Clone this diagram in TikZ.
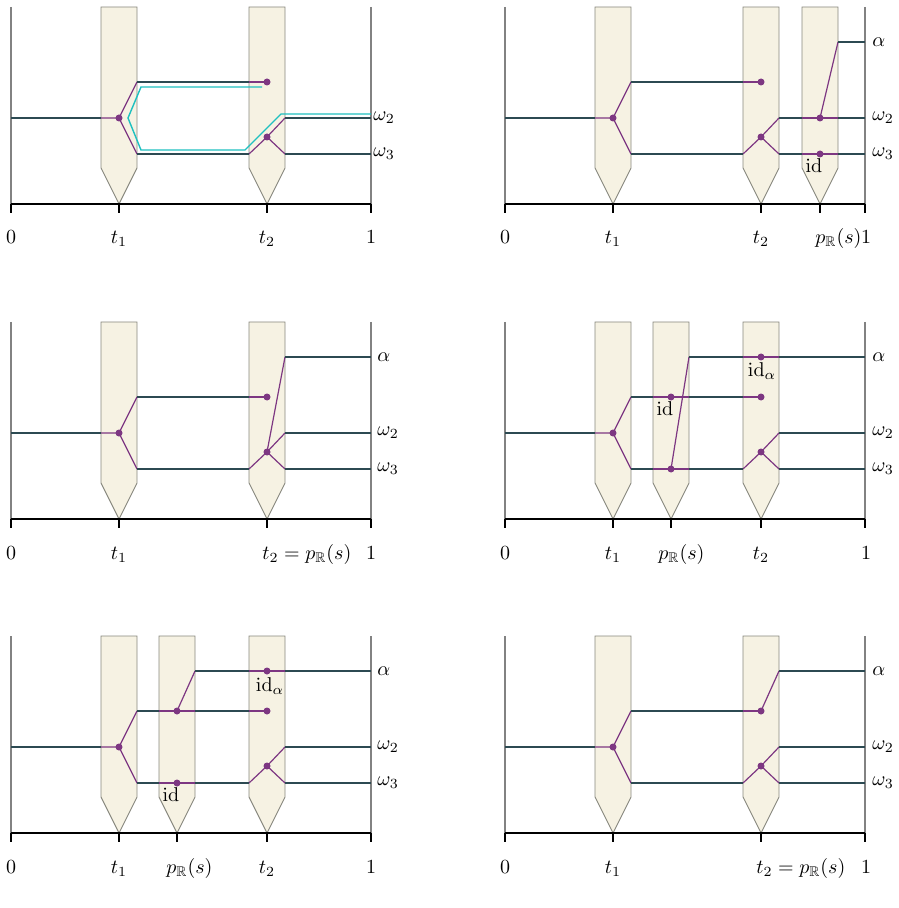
\documentclass[tikz,border=0pt]{standalone}
\usepackage{amsmath,amssymb}
\definecolor{dkc}{RGB}{44,74,82}
\definecolor{puc}{RGB}{125,55,130}
\definecolor{cyc}{RGB}{30,192,192}
\definecolor{penfill}{RGB}{246,242,227}
\definecolor{pendraw}{RGB}{135,135,125}
\definecolor{framec}{RGB}{130,130,130}
\tikzset{
  dk/.style={draw=dkc, line width=0.8pt},
  pu/.style={draw=puc, line width=0.6pt, line join=round},
  cy/.style={draw=cyc, line width=0.7pt, line join=miter},
  penbox/.style={fill=penfill, draw=pendraw, line width=0.45pt},
  framel/.style={draw=framec, line width=0.6pt},
  axisl/.style={draw=black, line width=0.8pt},
  dotn/.style={circle, fill=puc, inner sep=0pt, minimum size=3.5pt},
  rlab/.style={anchor=west, inner sep=0pt},
  tlab/.style={anchor=base, inner sep=0pt},
  tlabw/.style={anchor=base west, inner sep=0pt},
  smalllab/.style={inner sep=0pt}
}
\newcommand\penat[1]{\draw[penbox] ({#1-18},-197) -- ({#1+18},-197) -- ({#1+18},-36) -- (#1,0) -- ({#1-18},-36) -- cycle;}
\newcommand\frameaxis[1]{%
  \draw[framel] (0,-197) -- (0,0);
  \draw[framel] (360,-197) -- (360,0);
  \draw[axisl] (0,0) -- (360,0);
  \foreach \tx in {#1} {\draw[axisl] (\tx,0) -- (\tx,9);}
}
\newcommand\common{%
  \coordinate (in) at (0,-86);
  \coordinate (inp) at (90,-86);
  \coordinate (d1) at (108,-86);
  \coordinate (u1) at (126,-122);
  \coordinate (l1) at (126,-50);
  \coordinate (ua) at (238,-122);
  \coordinate (d2) at (256,-122);
  \coordinate (la) at (238,-50);
  \coordinate (d3) at (256,-67);
  \coordinate (r2) at (274,-86);
  \coordinate (r3) at (274,-50);
  \coordinate (e2) at (360,-86);
  \coordinate (e3) at (360,-50);
  \coordinate (ea) at (360,-162);
  \draw[dk] (in) -- (inp);
  \draw[pu] (inp) -- (d1) -- (u1);
  \draw[pu] (d1) -- (l1);
  \draw[pu] (ua) -- (d2);
  \draw[pu] (la) -- (d3) -- (r2);
  \draw[pu] (d3) -- (r3);
  \draw[dk] (r2) -- (e2);
  \draw[dk] (r3) -- (e3);
}
\newcommand\dotat[1]{\node[dotn] (#1n) at (#1) {};}
\begin{document}
\begin{tikzpicture}[x=0.5pt,y=-0.5pt]
\useasboundingbox (0,0) rectangle (898,908);

% ---------- Panel 1 ----------
\begin{scope}[shift={(11,204)}, name prefix=pa-]
  \penat{108}\penat{256}
  \frameaxis{0,108,256,360}
  \common
  \draw[dk] (u1) -- (ua);
  \draw[dk] (l1) -- (la);
  \coordinate (c1) at (251,-117);
  \coordinate (c2) at (130,-117);
  \coordinate (c3) at (117,-86);
  \coordinate (c4) at (130,-54);
  \coordinate (c5) at (234,-54);
  \coordinate (c6) at (270,-90);
  \coordinate (c7) at (360,-90);
  \draw[cy] (c1) -- (c2) -- (c3) -- (c4) -- (c5) -- (c6) -- (c7);
  \dotat{d1}\dotat{d2}\dotat{d3}
  \node[rlab] (w2) at (362,-86) {$\omega_2$};
  \node[rlab] (w3) at (362,-50) {$\omega_3$};
  \node[tlab] (k0) at (0,40) {$0$};
  \node[tlab] (k1) at (108,40) {$t_1$};
  \node[tlab] (k2) at (256,40) {$t_2$};
  \node[tlab] (k3) at (360,40) {$1$};
\end{scope}

% ---------- Panel 2 ----------
\begin{scope}[shift={(505,204)}, name prefix=pb-]
  \penat{108}\penat{256}\penat{315}
  \frameaxis{0,108,256,315,360}
  \common
  \draw[dk] (u1) -- (ua);
  \draw[dk] (l1) -- (la);
  \coordinate (s2a) at (297,-86);
  \coordinate (e1) at (315,-86);
  \coordinate (s2b) at (333,-86);
  \coordinate (al) at (333,-162);
  \coordinate (s3a) at (297,-50);
  \coordinate (f) at (315,-50);
  \coordinate (s3b) at (333,-50);
  \draw[dk] (r2) -- (s2a);
  \draw[pu] (s2a) -- (s2b);
  \draw[pu] (e1) -- (al);
  \draw[dk] (al) -- (ea);
  \draw[dk] (s2b) -- (e2);
  \draw[dk] (r3) -- (s3a);
  \draw[pu] (s3a) -- (s3b);
  \draw[dk] (s3b) -- (e3);
  \dotat{d1}\dotat{d2}\dotat{d3}\dotat{e1}\dotat{f}
  \node[smalllab] (idl) at (309,-38) {$\mathrm{id}$};
  \node[rlab] (wa) at (367,-162) {$\alpha$};
  \node[rlab] (w2) at (367,-86) {$\omega_2$};
  \node[rlab] (w3) at (367,-50) {$\omega_3$};
  \node[tlab] (k0) at (0,40) {$0$};
  \node[tlab] (k1) at (108,40) {$t_1$};
  \node[tlab] (k2) at (256,40) {$t_2$};
  \node[tlabw] (kp) at (310,40) {$p_{\mathbb{R}}(s)$};
  \node[tlab] (k3) at (361,40) {$1$};
\end{scope}

% ---------- Panel 3 ----------
\begin{scope}[shift={(11,519)}, name prefix=pc-]
  \penat{108}\penat{256}
  \frameaxis{0,108,256,360}
  \common
  \draw[dk] (u1) -- (ua);
  \draw[dk] (l1) -- (la);
  \coordinate (ra) at (274,-162);
  \draw[pu] (d3) -- (ra);
  \draw[dk] (ra) -- (ea);
  \dotat{d1}\dotat{d2}\dotat{d3}
  \node[rlab] (wa) at (366,-162) {$\alpha$};
  \node[rlab] (w2) at (366,-86) {$\omega_2$};
  \node[rlab] (w3) at (366,-50) {$\omega_3$};
  \node[tlab] (k0) at (0,40) {$0$};
  \node[tlab] (k1) at (108,40) {$t_1$};
  \node[tlabw] (k2) at (251,40) {$t_2 = p_{\mathbb{R}}(s)$};
  \node[tlab] (k3) at (360,40) {$1$};
\end{scope}

% ---------- Panel 4 ----------
\begin{scope}[shift={(505,519)}, name prefix=pd-]
  \penat{108}\penat{166}\penat{256}
  \frameaxis{0,108,166,256,360}
  \common
  \coordinate (qa) at (148,-122);
  \coordinate (g1) at (166,-122);
  \coordinate (qb) at (184,-122);
  \coordinate (ha) at (148,-50);
  \coordinate (g2) at (166,-50);
  \coordinate (hb) at (184,-50);
  \coordinate (al) at (184,-162);
  \coordinate (ka) at (238,-162);
  \coordinate (g3) at (256,-162);
  \coordinate (kb) at (274,-162);
  \draw[dk] (u1) -- (qa);
  \draw[pu] (qa) -- (qb);
  \draw[dk] (qb) -- (ua);
  \draw[dk] (l1) -- (ha);
  \draw[pu] (ha) -- (hb);
  \draw[pu] (g2) -- (al);
  \draw[dk] (hb) -- (la);
  \draw[dk] (al) -- (ka);
  \draw[pu] (ka) -- (kb);
  \draw[dk] (kb) -- (ea);
  \dotat{d1}\dotat{g1}\dotat{g2}\dotat{d2}\dotat{g3}\dotat{d3}
  \node[smalllab] (idl) at (160,-110) {$\mathrm{id}$};
  \node[smalllab] (ida) at (257,-148) {$\mathrm{id}_\alpha$};
  \node[rlab] (wa) at (367,-162) {$\alpha$};
  \node[rlab] (w2) at (367,-86) {$\omega_2$};
  \node[rlab] (w3) at (367,-50) {$\omega_3$};
  \node[tlab] (k0) at (0,40) {$0$};
  \node[tlab] (k1) at (108,40) {$t_1$};
  \node[tlabw] (kp) at (153,40) {$p_{\mathbb{R}}(s)$};
  \node[tlab] (k2) at (256,40) {$t_2$};
  \node[tlab] (k3) at (361,40) {$1$};
\end{scope}

% ---------- Panel 5 ----------
\begin{scope}[shift={(11,833)}, name prefix=pe-]
  \penat{108}\penat{166}\penat{256}
  \frameaxis{0,108,166,256,360}
  \common
  \coordinate (qa) at (148,-122);
  \coordinate (g1) at (166,-122);
  \coordinate (qb) at (184,-122);
  \coordinate (ha) at (148,-50);
  \coordinate (g2) at (166,-50);
  \coordinate (hb) at (184,-50);
  \coordinate (al) at (184,-162);
  \coordinate (ka) at (238,-162);
  \coordinate (g3) at (256,-162);
  \coordinate (kb) at (274,-162);
  \draw[dk] (u1) -- (qa);
  \draw[pu] (qa) -- (qb);
  \draw[pu] (g1) -- (al);
  \draw[dk] (qb) -- (ua);
  \draw[dk] (l1) -- (ha);
  \draw[pu] (ha) -- (hb);
  \draw[dk] (hb) -- (la);
  \draw[dk] (al) -- (ka);
  \draw[pu] (ka) -- (kb);
  \draw[dk] (kb) -- (ea);
  \dotat{d1}\dotat{g1}\dotat{g2}\dotat{d2}\dotat{g3}\dotat{d3}
  \node[smalllab] (idl) at (160,-38) {$\mathrm{id}$};
  \node[smalllab] (ida) at (259,-147) {$\mathrm{id}_\alpha$};
  \node[rlab] (wa) at (366,-162) {$\alpha$};
  \node[rlab] (w2) at (366,-86) {$\omega_2$};
  \node[rlab] (w3) at (366,-50) {$\omega_3$};
  \node[tlab] (k0) at (0,40) {$0$};
  \node[tlab] (k1) at (108,40) {$t_1$};
  \node[tlabw] (kp) at (155,40) {$p_{\mathbb{R}}(s)$};
  \node[tlab] (k2) at (256,40) {$t_2$};
  \node[tlab] (k3) at (360,40) {$1$};
\end{scope}

% ---------- Panel 6 ----------
\begin{scope}[shift={(505,833)}, name prefix=pf-]
  \penat{108}\penat{256}
  \frameaxis{0,108,256,360}
  \common
  \draw[dk] (u1) -- (ua);
  \draw[dk] (l1) -- (la);
  \coordinate (ra) at (274,-162);
  \draw[pu] (d2) -- (ra);
  \draw[dk] (ra) -- (ea);
  \dotat{d1}\dotat{d2}\dotat{d3}
  \node[rlab] (wa) at (367,-162) {$\alpha$};
  \node[rlab] (w2) at (367,-86) {$\omega_2$};
  \node[rlab] (w3) at (367,-50) {$\omega_3$};
  \node[tlab] (k0) at (0,40) {$0$};
  \node[tlab] (k1) at (108,40) {$t_1$};
  \node[tlabw] (k2) at (251,40) {$t_2 = p_{\mathbb{R}}(s)$};
  \node[tlab] (k3) at (361,40) {$1$};
\end{scope}
\end{tikzpicture}
\end{document}
